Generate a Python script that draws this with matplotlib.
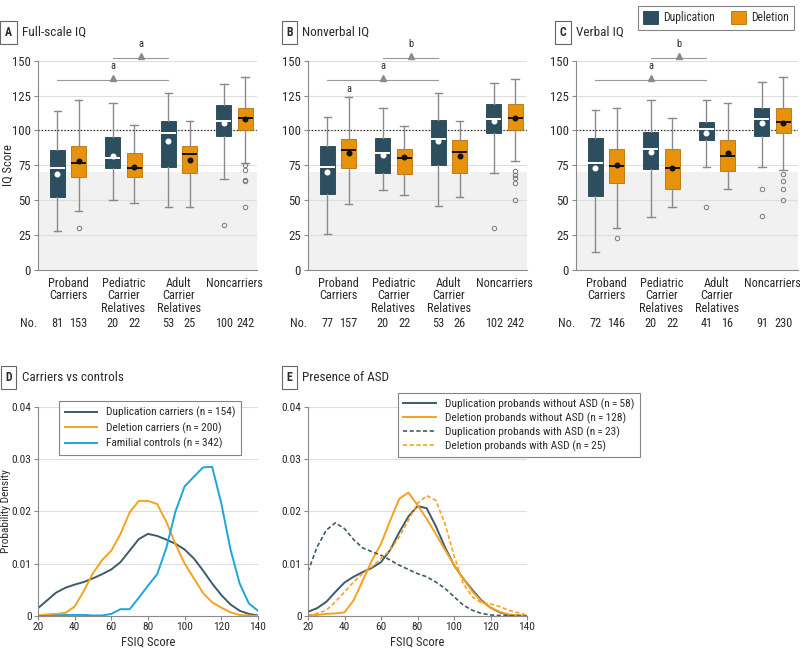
import matplotlib
matplotlib.use("Agg")
import matplotlib.pyplot as plt
from matplotlib import font_manager
from matplotlib.patches import Patch

_names = {f.name for f in font_manager.fontManager.ttflist}
_fam = [f for f in ["Liberation Sans Narrow", "Roboto Condensed", "Open Sans Condensed", "Roboto", "Liberation Sans"] if f in _names]
plt.rcParams['font.family'] = _fam[:1] + ["DejaVu Sans"]

# ---------------- data ----------------
groups = ["Proband\nCarriers", "Pediatric\nCarrier\nRelatives", "Adult\nCarrier\nRelatives", "Noncarriers"]

# box stats: (whisker low, Q1, median, Q3, whisker high)
fsiq_dup_box = [(28, 52.5, 73, 86, 114), (50, 73, 80.5, 95, 120), (45, 74, 98, 107, 127), (65, 96, 107, 118, 133)]
fsiq_dup_mean = [69, 82, 92.5, 105.5]
fsiq_dup_out = [[], [], [], [32]]
fsiq_dup_n = [81, 20, 53, 100]
fsiq_del_box = [(42, 66.5, 77, 89, 122), (48, 66.5, 73, 84, 104), (45, 69.5, 83, 89, 107), (77, 100, 109, 116, 138)]
fsiq_del_mean = [78, 74, 79, 108]
fsiq_del_out = [[30], [], [], [75, 72, 64.5, 64, 45]]
fsiq_del_n = [153, 22, 25, 242]

nviq_dup_box = [(26, 54.5, 74, 89, 110), (57, 69.5, 83.5, 94.5, 116), (46, 75, 94, 107.5, 127), (69.5, 98, 108.5, 119, 134)]
nviq_dup_mean = [70, 82.5, 92.5, 107]
nviq_dup_out = [[], [], [], [30]]
nviq_dup_n = [77, 20, 53, 102]
nviq_del_box = [(47, 73, 86, 94, 124), (54, 68.5, 80.5, 87, 103), (52, 69.5, 84.5, 93, 107), (78, 100, 109, 119, 137)]
nviq_del_mean = [84, 81, 81.5, 109]
nviq_del_out = [[], [], [], [71, 68, 66, 62, 50]]
nviq_del_n = [157, 22, 26, 242]

viq_dup_box = [(13, 53, 77, 94.5, 115), (38, 72.5, 86.5, 99, 122), (74, 93, 101, 106, 122), (74, 96, 108, 116, 135)]
viq_dup_mean = [73, 84.5, 98.5, 105]
viq_dup_out = [[], [], [45], [58, 39]]
viq_dup_n = [72, 20, 41, 91]
viq_del_box = [(30, 62.5, 74.5, 87, 116), (45, 58, 73, 87, 109), (58, 71, 81.5, 93.5, 120), (72, 98, 106, 116, 138)]
viq_del_mean = [75.5, 73, 84, 105.5]
viq_del_out = [[23], [], [], [69, 64, 58, 50]]
viq_del_n = [146, 22, 16, 230]

# significance annotations: (group from, group to, IQ level, label)
fsiq_sig = [(0, 2, 136, "a"), (1, 2, 152, "a")]
nviq_sig = [(0, 2, 136, "a"), (1, 2, 152, "b")]
viq_sig = [(0, 2, 136, "a"), (1, 2, 152, "b")]

# density curves
fsiq_x = [20, 25, 30, 35, 40, 45, 50, 55, 60, 65, 70, 75, 80, 85, 90, 95, 100, 105, 110, 115, 120, 125, 130, 135, 140]
dens_dup_carriers = [0.0015, 0.0030, 0.0045, 0.0054, 0.0060, 0.0065, 0.0072, 0.0080, 0.0089, 0.0103, 0.0125, 0.0147,
                     0.0157, 0.0153, 0.0146, 0.0138, 0.0127, 0.0110, 0.0087, 0.0062, 0.0040, 0.0022, 0.0010, 0.0004, 0.0001]
dens_del_carriers = [0.0001, 0.0003, 0.0004, 0.0006, 0.0018, 0.0048, 0.0082, 0.0107, 0.0125, 0.0157, 0.0198, 0.0220,
                     0.0220, 0.0214, 0.0180, 0.0137, 0.0100, 0.0072, 0.0044, 0.0026, 0.0016, 0.0007, 0.0002, 0.0001, 0.0]
dens_controls = [0.0, 0.0, 0.0001, 0.0002, 0.0002, 0.0002, 0.0001, 0.0001, 0.0004, 0.0013, 0.0013, 0.0035,
                 0.0058, 0.0080, 0.0130, 0.0200, 0.0248, 0.0266, 0.0284, 0.0285, 0.0215, 0.0127, 0.0062, 0.0024, 0.0010]
dens_dup_noasd = [0.0008, 0.0015, 0.0027, 0.0046, 0.0064, 0.0075, 0.0084, 0.0092, 0.0103, 0.0126, 0.0160, 0.0190,
                  0.0210, 0.0206, 0.0172, 0.0132, 0.0097, 0.0072, 0.0050, 0.0030, 0.0016, 0.0007, 0.0002, 0.0001, 0.0]
dens_del_noasd = [0.0001, 0.0002, 0.0004, 0.0005, 0.0007, 0.0030, 0.0068, 0.0106, 0.0138, 0.0182, 0.0224, 0.0236,
                  0.0212, 0.0186, 0.0157, 0.0127, 0.0098, 0.0072, 0.0047, 0.0028, 0.0016, 0.0008, 0.0003, 0.0001, 0.0]
dens_dup_asd = [0.0085, 0.0132, 0.0164, 0.0178, 0.0167, 0.0146, 0.0130, 0.0123, 0.0116, 0.0107, 0.0097, 0.0089,
                0.0081, 0.0075, 0.0065, 0.0053, 0.0037, 0.0021, 0.0011, 0.0005, 0.0002, 0.0001, 0.0001, 0.0, 0.0]
dens_del_asd = [0.0001, 0.0005, 0.0011, 0.0027, 0.0046, 0.0065, 0.0081, 0.0094, 0.0110, 0.0126, 0.0151, 0.0183,
                0.0215, 0.0230, 0.0221, 0.0177, 0.0116, 0.0062, 0.0037, 0.0025, 0.0023, 0.0018, 0.0011, 0.0006, 0.0002]

# ---------------- style ----------------
DUP = "#2c4e5e"
DEL = "#e8920c"
DUP_LINE = "#3d5b6b"
DEL_LINE = "#f5a21f"
CTRL_LINE = "#1fa6d8"
GRID = "#dedede"
SPINE = "#8a8a8a"
TXT = "#2a2a2a"

W, H = 800, 649
fig = plt.figure(figsize=(8, 6.49), dpi=100)


def add_axes(x0, y0, x1, y1):
    return fig.add_axes([x0 / W, 1 - y1 / H, (x1 - x0) / W, (y1 - y0) / H])


GROUP_PX = 55.5
OFF = 0.19


def style_axes(ax):
    for s in ("top", "right"):
        ax.spines[s].set_visible(False)
    for s in ("left", "bottom"):
        ax.spines[s].set_color(SPINE)
        ax.spines[s].set_linewidth(0.8)


def box_panel(ax, width_px, dbox, dmean, dout, dn, lbox, lmean, lout, ln, sig, ylabel=None, extra=None):
    ax.set_xlim(-0.54, -0.54 + width_px / GROUP_PX)
    ax.set_ylim(0, 150)
    ax.axhspan(0, 70, color="#f1f1f1", lw=0, zorder=0)
    for v in range(25, 151, 25):
        ax.axhline(v, color=GRID, lw=0.8, zorder=0.5)
    ax.axhline(100, color="#222222", lw=0.9, ls=(0, (1, 1.6)), zorder=1)
    for boxes, means, outs, col, edge, medc, meanc, sign in (
            (dbox, dmean, dout, DUP, "#23414f", "white", "white", -1),
            (lbox, lmean, lout, DEL, "#b87008", "#111111", "#111111", 1)):
        stats = []
        for b, m, o in zip(boxes, means, outs):
            stats.append(dict(whislo=b[0], q1=b[1], med=b[2], q3=b[3], whishi=b[4], mean=m, fliers=o))
        pos = [i + sign * OFF for i in range(len(stats))]
        ax.bxp(stats, positions=pos, widths=0.27, capwidths=0.14, showmeans=True, patch_artist=True,
               manage_ticks=False, zorder=3,
               boxprops=dict(facecolor=col, edgecolor=edge, lw=0.6),
               medianprops=dict(color=medc, lw=1.4, solid_capstyle="butt"),
               meanprops=dict(marker="o", markerfacecolor=meanc, markeredgecolor=meanc, markersize=3.3),
               whiskerprops=dict(color=SPINE, lw=1.0),
               capprops=dict(color=SPINE, lw=1.0),
               flierprops=dict(marker="o", markerfacecolor="none", markeredgecolor="#7a7a7a",
                               markersize=3.2, markeredgewidth=0.7))
    for g0, g1, lvl, lab in sig:
        x0, x1 = g0 - OFF, g1 - OFF
        mid = (x0 + x1) / 2
        ax.plot([x0, x1], [lvl, lvl], color="#9a9a9a", lw=0.8, clip_on=False, zorder=2)
        ax.plot([mid], [lvl + 1.4], marker="^", color="#8a8a8a", ms=4.5, clip_on=False, zorder=2)
        ax.text(mid, lvl + 10, lab, ha="center", va="center", fontsize=7.5, color=TXT)
    if extra:
        for g, lvl, lab in extra:
            ax.text(g + OFF, lvl, lab, ha="center", va="center", fontsize=7.5, color=TXT)
    ax.set_yticks(range(0, 151, 25))
    ax.set_xticks(range(4))
    ax.set_xticklabels(groups, fontsize=8.8, color=TXT, linespacing=0.95, va="top")
    ax.tick_params(axis="x", length=0, pad=5)
    ax.tick_params(axis="y", length=3, color=SPINE, labelsize=9.2, labelcolor=TXT, pad=2)
    style_axes(ax)
    tr = ax.get_xaxis_transform()
    ax.text(-0.54 - 9 / GROUP_PX, -0.258, "No.", transform=tr, ha="center", va="center", fontsize=8.8, color=TXT)
    for i in range(4):
        ax.text(i - OFF, -0.258, str(dn[i]), transform=tr, ha="center", va="center", fontsize=8.8, color=TXT)
        ax.text(i + OFF, -0.258, str(ln[i]), transform=tr, ha="center", va="center", fontsize=8.8, color=TXT)
    if ylabel:
        ax.set_ylabel(ylabel, fontsize=9, color=TXT)
        ax.yaxis.set_label_coords(-0.137, 0.5)
        ax.yaxis.label.set_va("center")


def panel_title(xl, y, letter, title):
    fig.text(xl / W, 1 - y / H, letter, ha="center", va="center", fontsize=8.5, fontweight="bold", color=TXT,
             bbox=dict(boxstyle="square,pad=0.4", fc="white", ec="#666666", lw=0.8))
    fig.text((xl + 13) / W, 1 - y / H, title, ha="left", va="center", fontsize=9.5, color=TXT)


axA = add_axes(38, 60.7, 257, 270)
box_panel(axA, 219, fsiq_dup_box, fsiq_dup_mean, fsiq_dup_out, fsiq_dup_n,
          fsiq_del_box, fsiq_del_mean, fsiq_del_out, fsiq_del_n, fsiq_sig, ylabel="IQ Score")
axB = add_axes(308, 60.7, 527, 270)
box_panel(axB, 219, nviq_dup_box, nviq_dup_mean, nviq_dup_out, nviq_dup_n,
          nviq_del_box, nviq_del_mean, nviq_del_out, nviq_del_n, nviq_sig, extra=[(0, 130, "a")])
axC = add_axes(576, 60.7, 798, 270)
box_panel(axC, 222, viq_dup_box, viq_dup_mean, viq_dup_out, viq_dup_n,
          viq_del_box, viq_del_mean, viq_del_out, viq_del_n, viq_sig)

panel_title(8.5, 32.5, "A", "Full-scale IQ")
panel_title(289.5, 32.5, "B", "Nonverbal IQ")
panel_title(563, 32.5, "C", "Verbal IQ")

fig.legend(handles=[Patch(facecolor=DUP, edgecolor="#23414f", lw=0.6), Patch(facecolor=DEL, edgecolor="#b87008", lw=0.6)],
           labels=["Duplication", "Deletion"], loc="upper right", bbox_to_anchor=(799.5 / W, 1.0), ncol=2,
           fontsize=8.4, frameon=True, fancybox=False, edgecolor="#666666", handlelength=1.3, handleheight=1.3,
           columnspacing=1.4, handletextpad=0.4, borderpad=0.45, labelcolor=TXT).get_frame().set_linewidth(0.8)


def dens_panel(ax, ylabel=None):
    ax.set_xlim(20, 140)
    ax.set_ylim(0, 0.04)
    ax.set_yticks([0, 0.01, 0.02, 0.03, 0.04])
    ax.set_yticklabels(["0", "0.01", "0.02", "0.03", "0.04"])
    ax.set_xticks(range(20, 141, 20))
    for v in [0.01, 0.02, 0.03, 0.04]:
        ax.axhline(v, color=GRID, lw=0.8, zorder=0.5)
    ax.tick_params(length=3, color=SPINE, labelsize=8.2, labelcolor=TXT, pad=1.5)
    style_axes(ax)
    ax.set_xlabel("FSIQ Score", fontsize=9, color=TXT)
    ax.xaxis.set_label_coords(0.5, -0.095)
    ax.xaxis.label.set_va("top")
    if ylabel:
        ax.set_ylabel(ylabel, fontsize=8.2, color=TXT)
        ax.yaxis.set_label_coords(-0.146, 0.5)
        ax.yaxis.label.set_va("center")


axD = add_axes(38, 406.7, 258, 616)
dens_panel(axD, "Probability Density")
axD.plot(fsiq_x, dens_dup_carriers, color=DUP_LINE, lw=1.4, label="Duplication carriers (n\u2009=\u2009154)")
axD.plot(fsiq_x, dens_del_carriers, color=DEL_LINE, lw=1.4, label="Deletion carriers (n\u2009=\u2009200)")
axD.plot(fsiq_x, dens_controls, color=CTRL_LINE, lw=1.4, label="Familial controls (n\u2009=\u2009342)")
lg = axD.legend(loc="upper left", bbox_to_anchor=(0.07, 1.055), fontsize=8.2, frameon=True, fancybox=False,
                edgecolor="#666666", handlelength=2.8, labelspacing=0.35, borderpad=0.5, labelcolor=TXT)
lg.get_frame().set_linewidth(0.8)

axE = add_axes(308, 406.7, 527, 616)
dens_panel(axE)
axE.plot(fsiq_x, dens_dup_noasd, color=DUP_LINE, lw=1.4, label="Duplication probands without ASD (n\u2009=\u200958)")
axE.plot(fsiq_x, dens_del_noasd, color=DEL_LINE, lw=1.4, label="Deletion probands without ASD (n\u2009=\u2009128)")
axE.plot(fsiq_x, dens_dup_asd, color=DUP_LINE, lw=1.2, ls=(0, (2.5, 1.5)), label="Duplication probands with ASD (n\u2009=\u200923)")
axE.plot(fsiq_x, dens_del_asd, color=DEL_LINE, lw=1.2, ls=(0, (2.5, 1.5)), label="Deletion probands with ASD (n\u2009=\u200925)")
lg = axE.legend(loc="upper left", bbox_to_anchor=(0.385, 1.093), fontsize=8.2, frameon=True, fancybox=False,
                edgecolor="#666666", handlelength=2.9, labelspacing=0.22, borderpad=0.45, labelcolor=TXT)
lg.get_frame().set_linewidth(0.8)

panel_title(8.5, 377.7, "D", "Carriers vs controls")
panel_title(289.5, 377.7, "E", "Presence of ASD")

fig.savefig("out.png", dpi=100)
